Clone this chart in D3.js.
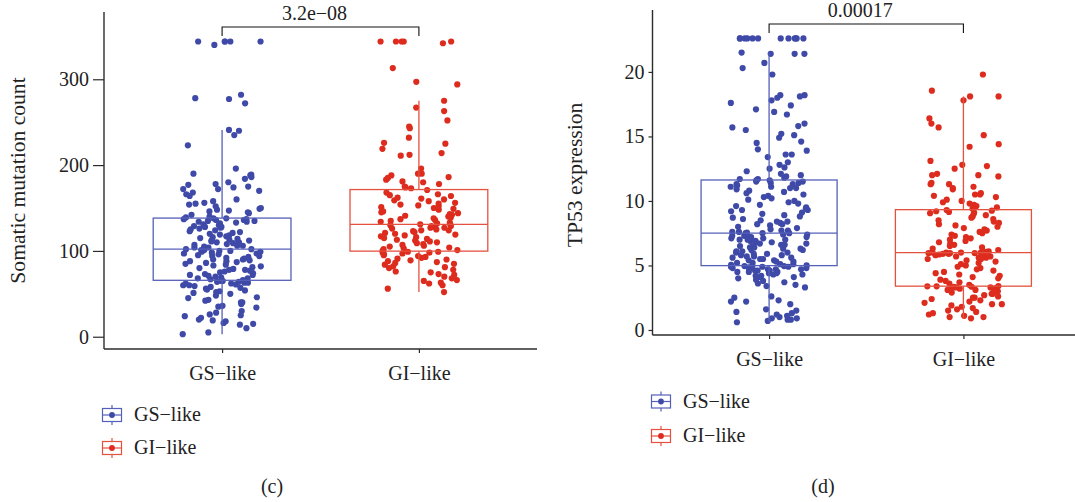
<!DOCTYPE html>
<html>
<head>
<meta charset="utf-8">
<script src="https://cdn.jsdelivr.net/npm/d3@7"></script>
<style>
  html, body { margin: 0; padding: 0; background: #fff; }
  svg text { font-family: "Liberation Serif", "Times New Roman", serif; fill: #222; }
</style>
</head>
<body>
<svg id="chart" width="1075" height="502"></svg>
<script>
// ---- data ----
const categories = ["GS\u2212like", "GI\u2212like"];

// Somatic mutation count per sample
const mutationGS = [3,5,10,14,15,16,18,19,20,22,24,25,26,28,30,34,35,36,38,40,40,42,43,45,46,48,50,51,52,53,54,55,56,57,58,59,60,60,61,62,62,63,63,64,64,65,65,
  66,67,68,68,69,70,71,72,72,73,74,75,76,77,78,78,79,80,81,82,83,84,85,86,87,88,88,89,90,90,91,92,93,94,94,95,96,97,97,98,99,99,100,100,101,101,102,
  102,103,104,104,105,106,106,107,108,109,110,110,111,112,112,113,114,115,116,117,118,119,120,121,122,123,124,125,126,127,128,128,129,130,131,132,133,134,134,135,135,136,136,137,137,138,138,
  139,140,142,144,145,146,147,148,149,150,152,154,155,156,158,160,164,166,168,170,172,172,174,175,177,178,180,184,186,188,189,190,196,
  223,235,240,241,272,277,278,282,340,344,344,344,344,344];
const mutationGI = [52,56,60,62,63,65,66,68,70,72,73,75,76,78,80,81,82,84,85,86,87,88,89,90,91,92,93,94,95,96,97,98,98,99,99,
  100,101,102,103,104,105,106,107,108,109,110,111,112,113,114,115,116,117,118,119,120,121,122,123,124,124,125,126,127,127,128,129,129,130,131,
  131,132,133,134,135,136,137,138,139,140,141,142,143,144,145,146,148,149,150,151,152,153,154,155,156,158,159,160,161,162,164,165,166,168,171,
  173,174,175,178,180,181,183,185,186,188,190,190,196,211,212,214,219,225,226,232,243,245,252,263,267,275,
  294,297,313,342,344,344,344,344,344];

// TP53 expression per sample
const tp53GS = [0.6,0.7,0.8,0.8,0.9,0.9,1.0,1.1,1.2,1.3,1.4,1.5,1.6,2.0,2.2,2.2,2.3,2.5,2.6,3.3,3.4,3.5,3.6,3.7,3.8,3.9,4.0,4.1,4.1,4.2,4.2,4.3,4.3,4.4,4.4,4.5,4.5,4.5,4.6,4.6,4.6,4.7,4.7,4.7,4.8,4.8,4.8,4.85,4.9,4.9,4.9,4.95,4.95,4.95,
  5.0,5.05,5.1,5.1,5.2,5.2,5.3,5.3,5.4,5.4,5.5,5.5,5.6,5.6,5.7,5.7,5.8,5.8,5.9,5.9,6.0,6.0,6.1,6.1,6.2,6.2,6.3,6.3,6.4,6.4,6.5,6.5,6.6,6.6,6.7,6.7,6.8,6.8,6.9,6.9,7.0,7.0,7.0,7.1,7.1,7.2,7.2,7.3,7.3,7.3,7.4,7.4,7.5,7.5,
  7.5,7.55,7.6,7.6,7.7,7.7,7.8,7.9,8.0,8.1,8.2,8.2,8.3,8.4,8.4,8.5,8.6,8.7,8.8,8.9,9.0,9.1,9.2,9.3,9.3,9.4,9.5,9.6,9.7,9.8,9.9,10.0,10.1,10.2,10.3,10.4,10.5,10.6,10.7,10.8,10.9,11.0,11.0,11.1,11.1,11.2,11.3,11.3,11.4,11.4,11.5,11.5,11.6,11.6,
  11.7,11.7,11.8,11.9,12.0,12.1,12.3,12.5,12.6,12.8,13.0,13.4,13.6,13.6,13.9,14.0,14.5,14.6,14.9,15.1,15.2,15.5,15.7,15.8,16.0,16.7,16.9,17.1,17.4,17.6,17.8,18.0,18.1,18.2,18.2,19.8,20.3,20.7,21.4,21.4,21.4,21.5,
  22.6,22.6,22.6,22.6,22.6,22.6,22.6,22.6,22.6,22.6,22.6,22.6];
const tp53GI = [0.9,1.0,1.0,1.1,1.2,1.3,1.4,1.5,1.6,1.7,1.8,1.9,2.0,2.0,2.1,2.2,2.3,2.4,2.5,2.5,2.6,2.7,2.8,2.8,2.9,3.0,3.0,3.1,3.1,3.2,3.2,3.25,3.3,3.3,3.35,3.35,3.38,3.38,
  3.4,3.5,3.6,3.7,3.8,3.9,4.0,4.1,4.2,4.3,4.4,4.5,4.6,4.7,4.8,4.9,5.0,5.1,5.2,5.3,5.4,5.5,5.5,5.6,5.6,5.7,5.7,5.8,5.8,5.85,5.9,5.9,5.95,5.95,5.95,6.0,6.0,6.0,
  6.0,6.05,6.1,6.2,6.3,6.4,6.5,6.6,6.7,6.8,6.9,7.0,7.1,7.2,7.3,7.4,7.5,7.6,7.7,7.8,7.9,8.0,8.1,8.2,8.3,8.4,8.5,8.6,8.7,8.8,8.9,9.0,9.05,9.1,9.15,9.2,9.25,9.3,
  9.4,9.5,9.6,9.7,9.8,9.9,10.0,10.1,10.3,10.4,10.5,10.5,10.6,10.9,11.0,11.1,11.3,11.3,11.4,11.9,12.0,12.0,12.1,12.5,12.7,12.8,13.1,14.2,14.4,15.1,15.7,16.0,16.4,17.8,18.1,18.1,18.55,19.8];

const mutationTicks = [0, 100, 200, 300];
const tp53Ticks = [0, 5, 10, 15, 20];
const pValues = ["3.2e\u221208", "0.00017"];
const panelLabels = ["(c)", "(d)"];
const axisTitles = ["Somatic mutation count", "TP53 expression"];

// ---- styling ----
const pointColors = ["#3F4AA8", "#DD2C1E"];
const boxColors = ["#5560B8", "#E4513F"];
const axisColor = "#2b2b2b";

const svg = d3.select("#chart");

function boxStats(values) {
  const s = values.slice().sort(d3.ascending);
  const q1 = d3.quantile(s, 0.25), med = d3.quantile(s, 0.5), q3 = d3.quantile(s, 0.75);
  const iqr = q3 - q1;
  const lo = d3.min(s.filter(v => v >= q1 - 1.5 * iqr));
  const hi = d3.max(s.filter(v => v <= q3 + 1.5 * iqr));
  return { q1, med, q3, lo, hi };
}

// deterministic horizontal jitter in [-1, 1], hashed from the point index
function spread(i, k) {
  const h = Math.sin(i * 127.1 + k * 311.7) * 43758.5453;
  return (h - Math.floor(h)) * 2 - 1;
}

function drawPanel(p, panelIndex) {
  const g = svg.append("g");
  const x = d3.scalePoint().domain(categories).range([p.left, p.right]).padding(0.6);
  const y = d3.scaleLinear().domain(p.yDomain).range([p.bottom, p.top]);
  const step = x.step();
  const groups = [p.gs, p.gi];

  // axes
  g.append("line").attr("x1", p.left).attr("x2", p.left).attr("y1", p.top).attr("y2", p.bottom)
    .attr("stroke", axisColor).attr("stroke-width", 1.4);
  g.append("line").attr("x1", p.left).attr("x2", p.right).attr("y1", p.bottom).attr("y2", p.bottom)
    .attr("stroke", axisColor).attr("stroke-width", 1.4);

  const yAxis = g.append("g").attr("transform", `translate(${p.left},0)`)
    .call(d3.axisLeft(y).tickValues(p.ticks).tickSize(p.tickLen).tickPadding(4).tickFormat(d3.format("d")));
  yAxis.select(".domain").remove();
  yAxis.selectAll(".tick line").attr("stroke", axisColor).attr("stroke-width", 1.2);
  yAxis.selectAll(".tick text").style("font-size", "20px").attr("fill", "#222")
    .style("font-family", "Liberation Serif, serif");

  const xAxis = g.append("g").attr("transform", `translate(0,${p.bottom})`)
    .call(d3.axisBottom(x).tickSize(4).tickPadding(12));
  xAxis.select(".domain").remove();
  xAxis.selectAll(".tick line").attr("stroke", axisColor).attr("stroke-width", 1.2);
  xAxis.selectAll(".tick text").style("font-size", "20px").attr("fill", "#222")
    .style("font-family", "Liberation Serif, serif").attr("dy", null).attr("y", 31);

  // axis title
  g.append("text").attr("transform", `translate(${p.titleX},${(p.top + p.bottom) / 2 + p.titleShift}) rotate(-90)`)
    .attr("text-anchor", "middle").attr("dominant-baseline", "central")
    .style("font-size", "21.6px").text(p.title);

  // jittered points
  groups.forEach((vals, gi) => {
    const cx = x(categories[gi]);
    g.append("g").selectAll("circle").data(vals).join("circle")
      .attr("cx", (d, i) => cx + spread(i, gi + 2 * panelIndex) * 0.2 * step)
      .attr("cy", d => y(d))
      .attr("r", 3.1)
      .attr("fill", pointColors[gi]);
  });

  // boxes
  groups.forEach((vals, gi) => {
    const s = boxStats(vals);
    const cx = x(categories[gi]);
    const hw = 0.35 * step;
    const bg = g.append("g").attr("stroke", boxColors[gi]).attr("stroke-width", 1.3).attr("fill", "none");
    bg.append("line").attr("x1", cx).attr("x2", cx).attr("y1", y(s.hi)).attr("y2", y(s.q3));
    bg.append("line").attr("x1", cx).attr("x2", cx).attr("y1", y(s.q1)).attr("y2", y(s.lo));
    bg.append("rect").attr("x", cx - hw).attr("width", 2 * hw)
      .attr("y", y(s.q3)).attr("height", y(s.q1) - y(s.q3));
    bg.append("line").attr("x1", cx - hw).attr("x2", cx + hw).attr("y1", y(s.med)).attr("y2", y(s.med));
  });

  // comparison bracket
  const bx1 = x(categories[0]), bx2 = x(categories[1]);
  g.append("path")
    .attr("d", `M${bx1},${p.bracketY + 9}V${p.bracketY}H${bx2}V${p.bracketY + 9}`)
    .attr("fill", "none").attr("stroke", "#111").attr("stroke-width", 1.1);
  g.append("text").attr("x", (bx1 + bx2) / 2 - 6).attr("y", p.bracketY - 7)
    .attr("text-anchor", "middle").style("font-size", "20px").text(p.pLabel);

  // legend
  categories.forEach((c, gi) => {
    const ly = p.legendY + gi * p.legendGap;
    const lg = g.append("g").attr("transform", `translate(${p.legendX},${ly})`);
    lg.append("line").attr("x1", 0).attr("x2", 0).attr("y1", -10).attr("y2", 10)
      .attr("stroke", boxColors[gi]).attr("stroke-width", 1.2);
    lg.append("rect").attr("x", -9.5).attr("y", -6.5).attr("width", 19).attr("height", 13)
      .attr("fill", "#fff").attr("stroke", boxColors[gi]).attr("stroke-width", 1.2);
    lg.append("line").attr("x1", -9.5).attr("x2", 9.5).attr("y1", 0).attr("y2", 0)
      .attr("stroke", boxColors[gi]).attr("stroke-width", 1.2);
    lg.append("circle").attr("r", 2.9).attr("fill", pointColors[gi]);
    g.append("text").attr("x", p.legendX + 22).attr("y", ly + 6)
      .style("font-size", "20px").text(c);
  });

  // panel tag
  g.append("text").attr("x", p.tagX).attr("y", 493).attr("text-anchor", "middle")
    .style("font-size", "20px").text(p.tag);
}

drawPanel({
  gs: mutationGS, gi: mutationGI, ticks: mutationTicks,
  left: 104, right: 537, top: 12, bottom: 349, yDomain: [-14.3, 378.4],
  tickLen: 11, title: axisTitles[0], titleX: 18, titleShift: 0,
  bracketY: 27, pLabel: pValues[0],
  legendX: 112, legendY: 415, legendGap: 33,
  tag: panelLabels[0], tagX: 272
}, 0);

drawPanel({
  gs: tp53GS, gi: tp53GI, ticks: tp53Ticks,
  left: 652.5, right: 1080, top: 10, bottom: 335, yDomain: [-0.39, 24.8],
  tickLen: 4, title: axisTitles[1], titleX: 575, titleShift: 2.5,
  bracketY: 24, pLabel: pValues[1],
  legendX: 661, legendY: 401.5, legendGap: 34.5,
  tag: panelLabels[1], tagX: 823
}, 1);
</script>
</body>
</html>
